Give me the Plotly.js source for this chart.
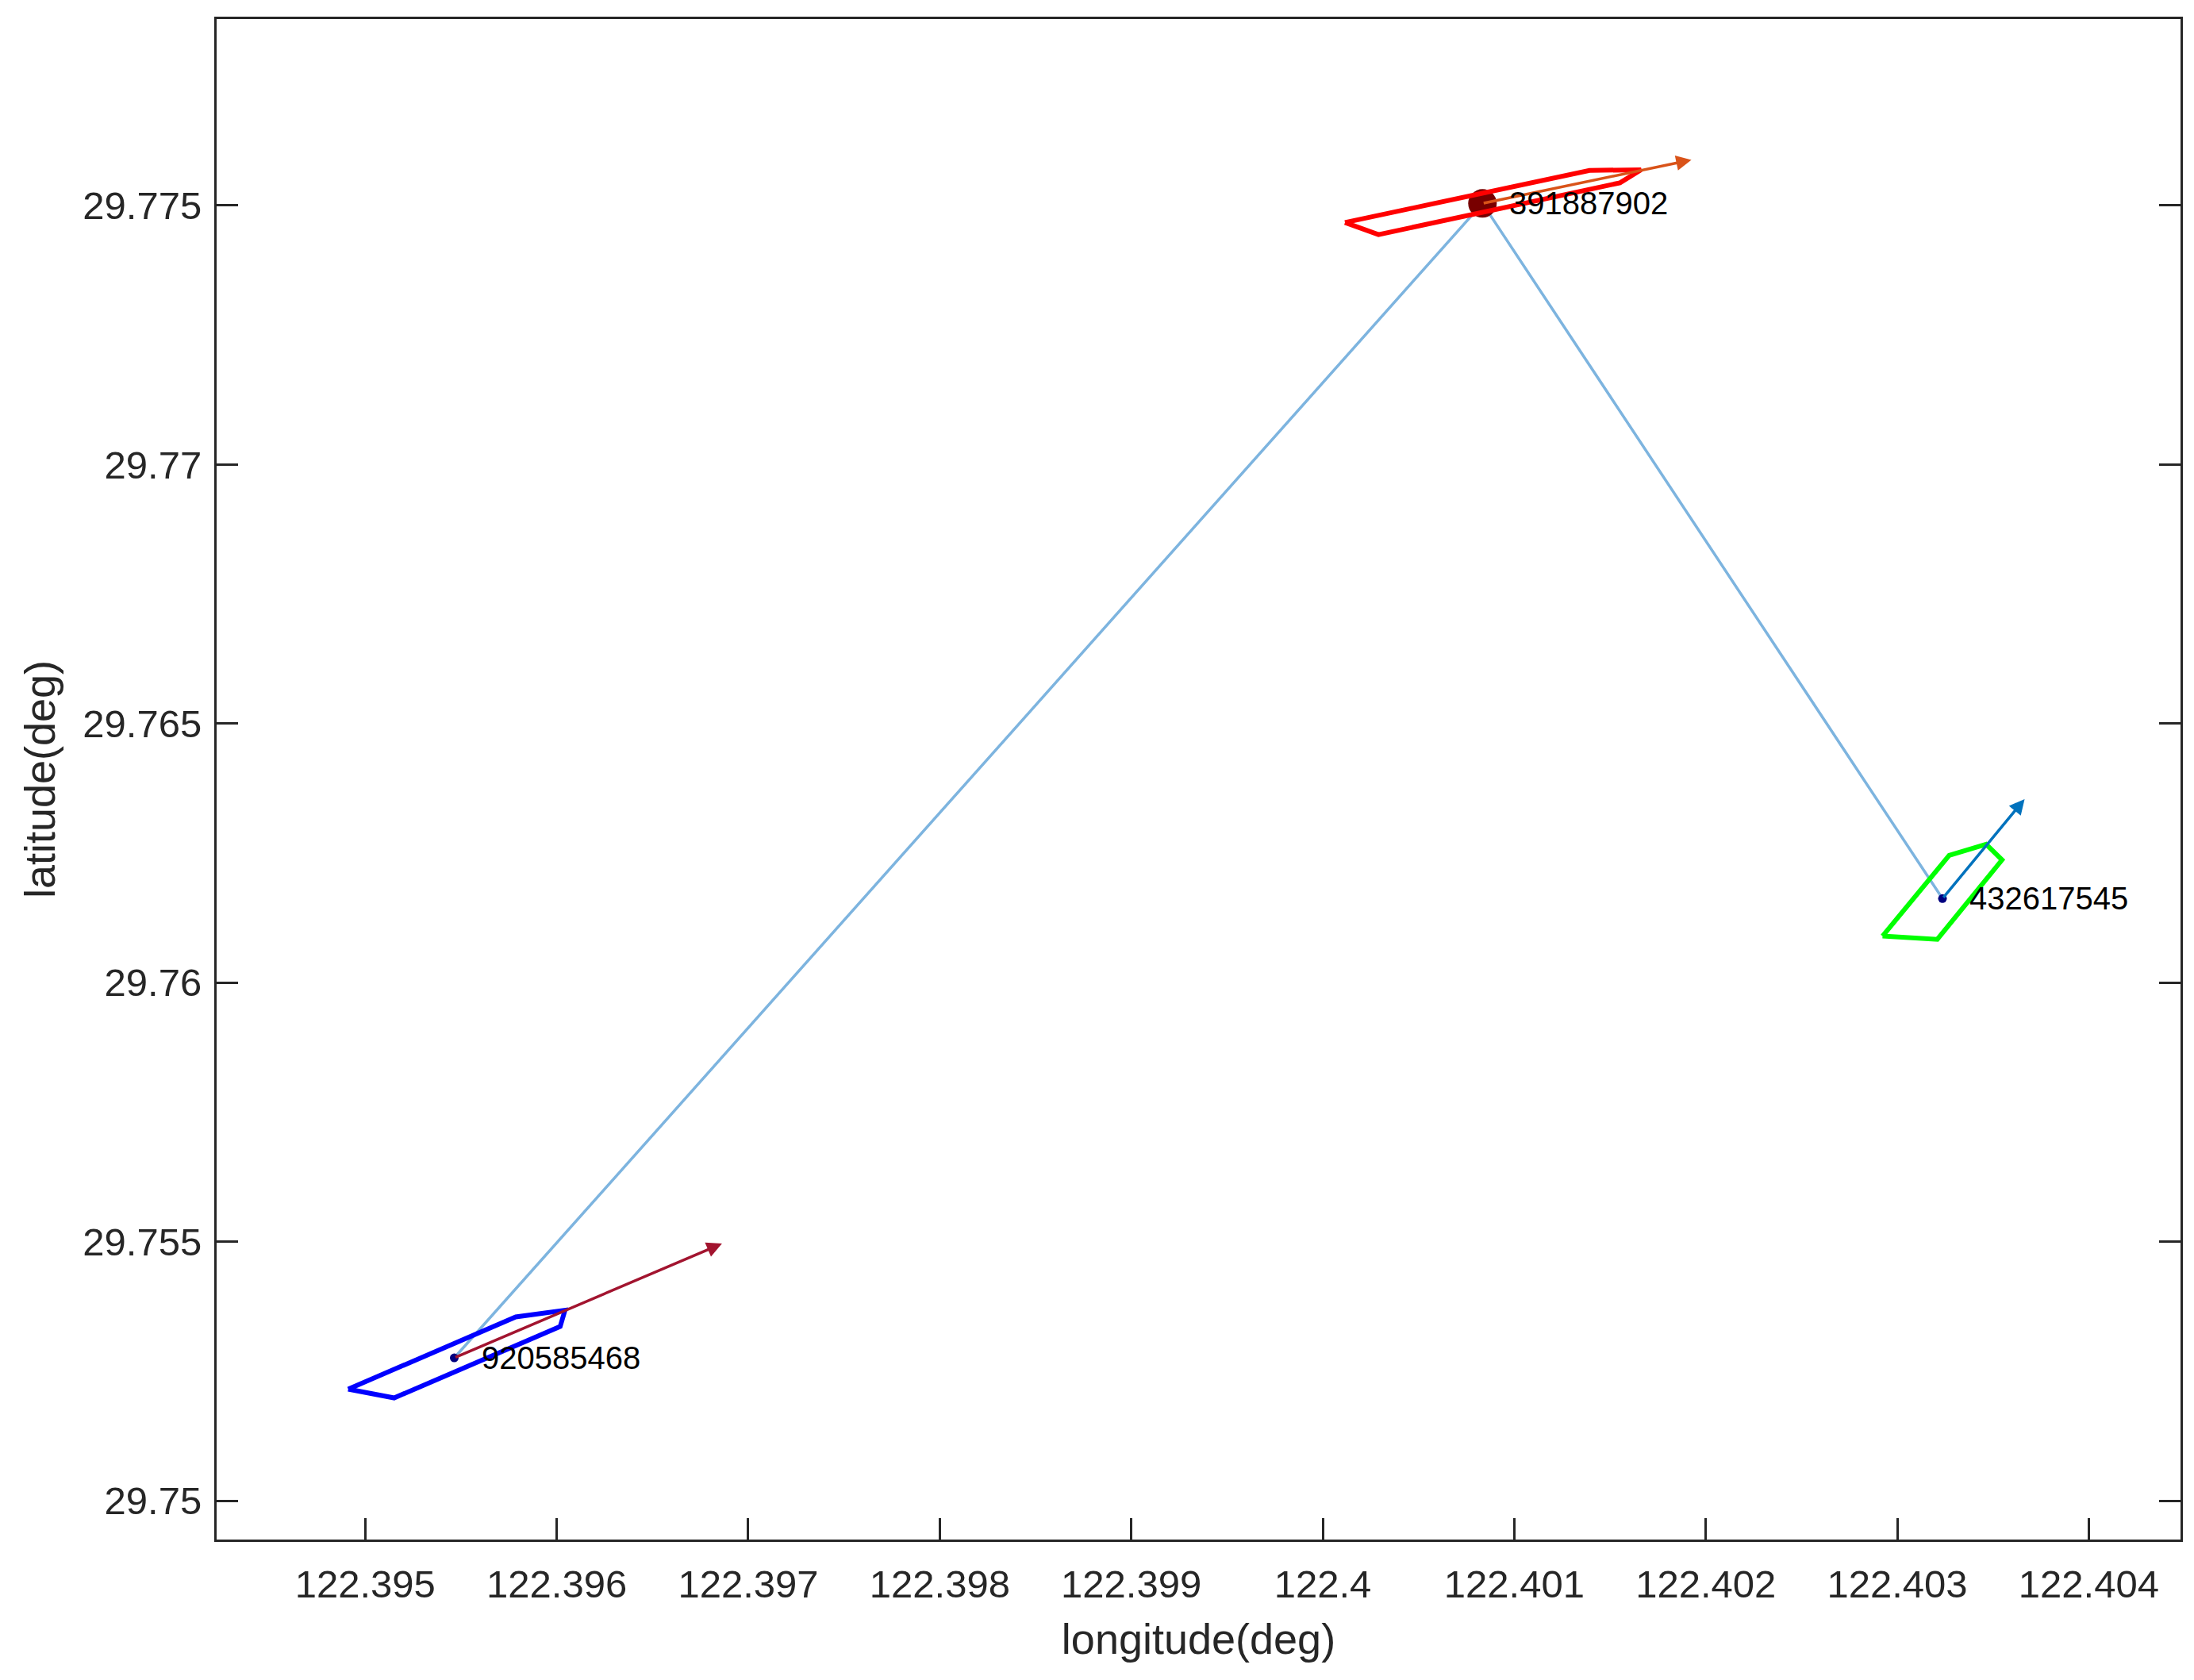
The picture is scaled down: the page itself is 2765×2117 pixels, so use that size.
<!DOCTYPE html>
<html>
<head>
<meta charset="utf-8">
<script src="https://cdn.plot.ly/plotly-3.0.1.min.js"></script>
<style>html,body{margin:0;padding:0;background:#fff;}#chart{width:2765px;height:2117px;}</style>
</head>
<body>
<div id="chart"></div>
<script>
// ---- data ----
const shipIds   = ['920585468', '391887902', '432617545'];
const centerLon = [122.395465, 122.400834, 122.403236];
const centerLat = [29.752760, 29.775040, 29.761624];

const blueHullLon  = [122.394911, 122.395151, 122.396018, 122.396043, 122.395786, 122.394911];
const blueHullLat  = [29.752155, 29.751986, 29.753365, 29.753679, 29.753549, 29.752155];
const redHullLon   = [122.400116, 122.400291, 122.401552, 122.401662, 122.401393, 122.400116];
const redHullLat   = [29.774672, 29.774438, 29.775438, 29.775689, 29.775678, 29.774672];
const greenHullLon = [122.402923, 122.403209, 122.403547, 122.403464, 122.403271, 122.402923];
const greenHullLat = [29.760900, 29.760838, 29.762370, 29.762672, 29.762457, 29.760900];

const arrowTipLon = [122.396863, 122.401925, 122.403665];
const arrowTipLat = [29.754965, 29.775882, 29.763545];

const xTickVals   = [122.395, 122.396, 122.397, 122.398, 122.399, 122.400, 122.401, 122.402, 122.403, 122.404];
const xTickLabels = ['122.395', '122.396', '122.397', '122.398', '122.399', '122.4', '122.401', '122.402', '122.403', '122.404'];
const yTickVals   = [29.750, 29.755, 29.760, 29.765, 29.770, 29.775];
const yTickLabels = ['29.75', '29.755', '29.76', '29.765', '29.77', '29.775'];

// ---- styles ----
const FONT = 'Liberation Sans, Arial, Helvetica, sans-serif';
const AX = '#262626';
const hullColors  = ['#0000FF', '#FF0000', '#00FF00'];
const arrowColors = ['#A2142F', '#D95319', '#0072BD'];

const hulls = [[blueHullLon, blueHullLat], [redHullLon, redHullLat], [greenHullLon, greenHullLat]];

const traces = [];
// connecting path between ships
traces.push({x: centerLon, y: centerLat, type: 'scatter', mode: 'lines',
  line: {color: '#7DB4DF', width: 3.5}, hoverinfo: 'skip'});
// center markers
traces.push({x: centerLon, y: centerLat, type: 'scatter', mode: 'markers',
  marker: {size: [11, 36, 11], color: ['#000080', '#780000', '#000080'], opacity: 1, line: {width: 0}}, hoverinfo: 'skip'});
// hull outlines
hulls.forEach((h, i) => traces.push({x: h[0], y: h[1], type: 'scatter', mode: 'lines',
  line: {color: hullColors[i], width: 6}, hoverinfo: 'skip'}));

const annotations = [];
for (let i = 0; i < shipIds.length; i++) {
  annotations.push({x: arrowTipLon[i], y: arrowTipLat[i], ax: centerLon[i], ay: centerLat[i],
    xref: 'x', yref: 'y', axref: 'x', ayref: 'y', text: '', showarrow: true,
    arrowhead: 2, arrowsize: 1.1, arrowwidth: 3.5, arrowcolor: arrowColors[i], standoff: 0, startstandoff: 0});
  annotations.push({x: centerLon[i], y: centerLat[i], xref: 'x', yref: 'y', text: shipIds[i],
    showarrow: false, xanchor: 'left', yanchor: 'middle', xshift: 32, yshift: 0,
    font: {family: FONT, size: 40, color: '#000000'}});
}

const axisCommon = {
  showline: true, linecolor: AX, linewidth: 3,
  ticks: 'inside', ticklen: 27, tickwidth: 3, tickcolor: AX,
  showgrid: false, zeroline: false,
  tickfont: {family: FONT, size: 49, color: AX}
};

const layout = {
  width: 2765, height: 2117,
  margin: {l: 273, r: 17, t: 24, b: 177, pad: 0},
  paper_bgcolor: '#ffffff', plot_bgcolor: '#ffffff',
  showlegend: false,
  xaxis: Object.assign({}, axisCommon, {
    mirror: true,
    range: [122.394224, 122.404479], tickmode: 'array', tickvals: xTickVals, ticktext: xTickLabels,
    ticklabelstandoff: 11,
    title: {text: 'longitude(deg)', font: {family: FONT, size: 54, color: AX}, standoff: 25}
  }),
  yaxis: Object.assign({}, axisCommon, {
    mirror: 'ticks',
    range: [29.749253, 29.778599], tickmode: 'array', tickvals: yTickVals, ticktext: yTickLabels,
    ticklabelstandoff: 6,
    title: {text: 'latitude(deg)', font: {family: FONT, size: 54, color: AX}, standoff: 18}
  }),
  annotations: annotations
};

Plotly.newPlot('chart', traces, layout, {staticPlot: true, displayModeBar: false});
</script>
</body>
</html>
